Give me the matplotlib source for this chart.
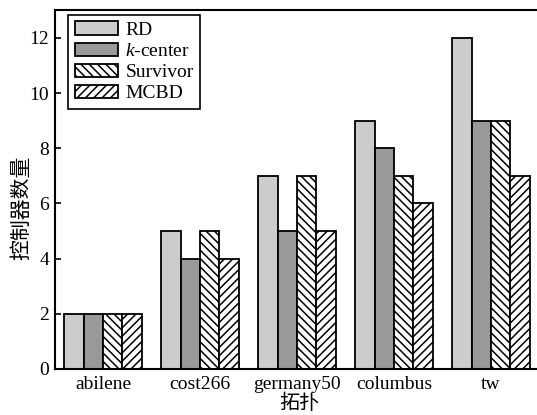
import matplotlib
matplotlib.use("Agg")
import matplotlib.pyplot as plt
import numpy as np

plt.rcParams["font.family"] = ["Liberation Serif", "Noto Sans CJK SC"]
plt.rcParams["hatch.linewidth"] = 1.1
plt.rcParams["mathtext.fontset"] = "custom"
plt.rcParams["mathtext.it"] = "Liberation Serif:italic"
plt.rcParams["mathtext.rm"] = "Liberation Serif"

topologies = ["abilene", "cost266", "germany50", "columbus", "tw"]
rd = [2, 5, 7, 9, 12]
k_center = [2, 4, 5, 8, 9]
survivor = [2, 5, 7, 7, 9]
mcbd = [2, 4, 5, 6, 7]

series = [
    ("RD", rd, "#cccccc", None),
    (r"$k$-center", k_center, "#999999", None),
    ("Survivor", survivor, "white", "\\\\\\\\"),
    ("MCBD", mcbd, "white", "////"),
]

fig = plt.figure(figsize=(5.37, 4.15), dpi=100)
ax = fig.add_axes([0.1015, 0.111, 0.903, 0.864])

x = np.arange(len(topologies))
width = 0.2
for i, (label, vals, color, hatch) in enumerate(series):
    ax.bar(x + (i - 1.5) * width, vals, width, color=color, edgecolor="black",
           linewidth=1.3, hatch=hatch, label=label)

fs = 14
ax.set_xlim(-0.5, 4.5)
ax.set_ylim(0, 13)
ax.set_yticks([0, 2, 4, 6, 8, 10, 12])
ax.set_xticks(x)
ax.set_xticklabels(topologies)
ax.tick_params(axis="y", direction="in", length=4, width=1.2, labelsize=fs, pad=4)
ax.tick_params(axis="x", length=0, labelsize=fs, pad=5)
for sp in ax.spines.values():
    sp.set_linewidth(1.5)

ax.set_ylabel("控制器数量", fontsize=15)
ax.yaxis.set_label_coords(-0.045, 0.45)
ax.set_xlabel("拓扑", fontsize=14.5)
ax.xaxis.set_label_coords(0.506, -0.072)

leg = ax.legend(loc="upper left", bbox_to_anchor=(0.028, 0.988), borderaxespad=0,
                fontsize=fs, fancybox=False, edgecolor="black", framealpha=1,
                handlelength=2.2, handleheight=0.7, labelspacing=0.18,
                handletextpad=0.4, borderpad=0.35)
leg.get_frame().set_linewidth(1.2)

fig.savefig("out.png", dpi=100)
